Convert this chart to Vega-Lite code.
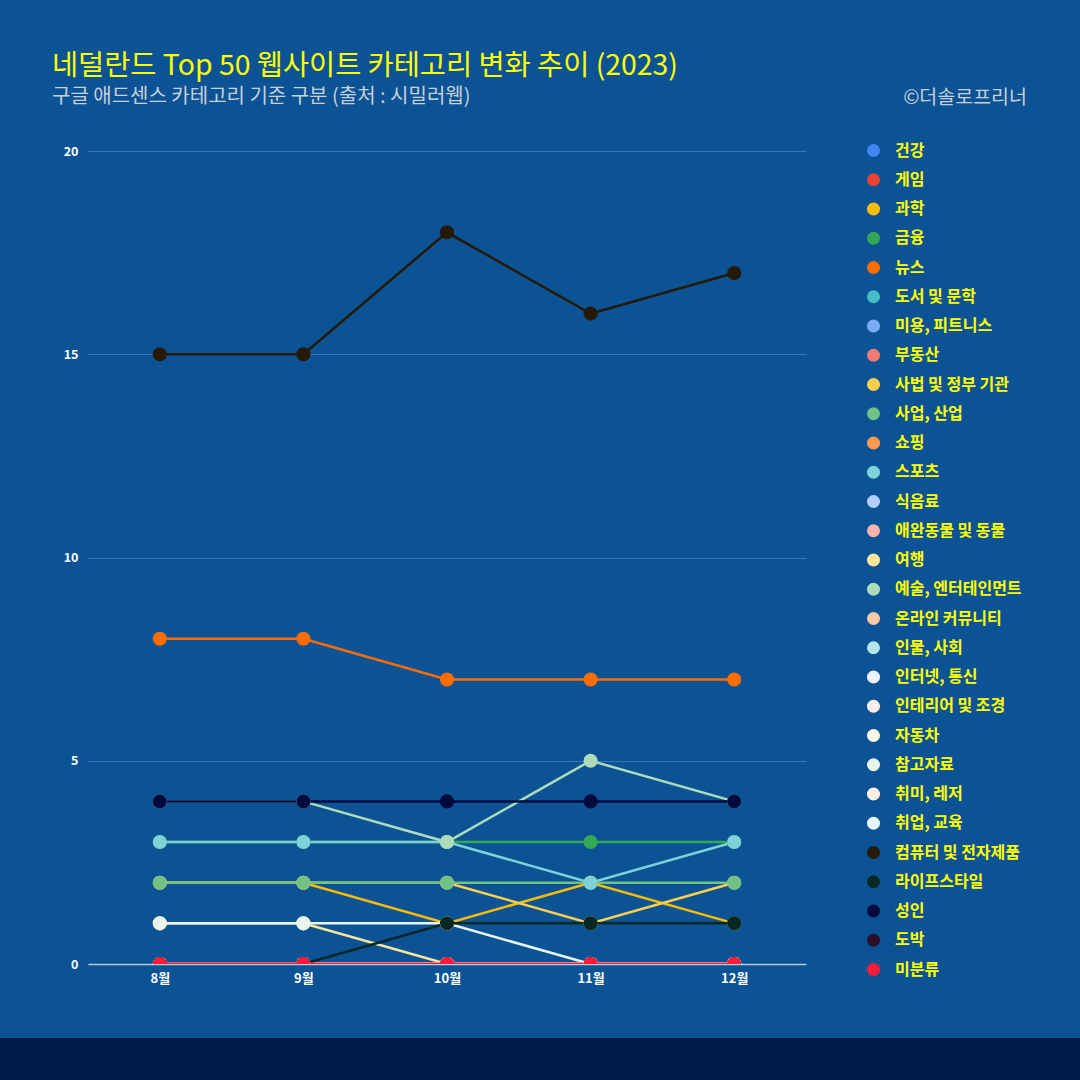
{
  "$schema": "https://vega.github.io/schema/vega-lite/v6.json",
  "width": 718,
  "height": 813,
  "autosize": {"type": "none"},
  "padding": {"left": 88, "top": 151, "right": 274, "bottom": 116},
  "background": "#0b5394",
  "title": {
    "text": "네덜란드 Top 50 웹사이트 카테고리 변화 추이 (2023)",
    "subtitle": "구글 애드센스 카테고리 기준 구분 (출처 : 시밀러웹)",
    "anchor": "start",
    "frame": "group",
    "dx": -36,
    "dy": 64,
    "offset": 44,
    "font": "Noto Sans CJK KR",
    "fontSize": 28.4,
    "fontWeight": "normal",
    "color": "#ffff00",
    "subtitleFont": "Noto Sans CJK KR",
    "subtitleFontSize": 20,
    "subtitleColor": "#c6d0da",
    "subtitlePadding": 6
  },
  "config": {
    "view": {"stroke": null},
    "font": "Noto Sans CJK KR"
  },
  "datasets": {
    "band": [{"k": 1}],
    "credit": [{"t": "©더솔로프리너"}],
    "main": [
      {"m": "8월", "c": "건강", "v": 0}, {"m": "9월", "c": "건강", "v": 0}, {"m": "10월", "c": "건강", "v": 0}, {"m": "11월", "c": "건강", "v": 0}, {"m": "12월", "c": "건강", "v": 0},
      {"m": "8월", "c": "게임", "v": 0}, {"m": "9월", "c": "게임", "v": 0}, {"m": "10월", "c": "게임", "v": 0}, {"m": "11월", "c": "게임", "v": 0}, {"m": "12월", "c": "게임", "v": 0},
      {"m": "8월", "c": "과학", "v": 2}, {"m": "9월", "c": "과학", "v": 2}, {"m": "10월", "c": "과학", "v": 1}, {"m": "11월", "c": "과학", "v": 2}, {"m": "12월", "c": "과학", "v": 1},
      {"m": "8월", "c": "금융", "v": 3}, {"m": "9월", "c": "금융", "v": 3}, {"m": "10월", "c": "금융", "v": 3}, {"m": "11월", "c": "금융", "v": 3}, {"m": "12월", "c": "금융", "v": 3},
      {"m": "8월", "c": "뉴스", "v": 8}, {"m": "9월", "c": "뉴스", "v": 8}, {"m": "10월", "c": "뉴스", "v": 7}, {"m": "11월", "c": "뉴스", "v": 7}, {"m": "12월", "c": "뉴스", "v": 7},
      {"m": "8월", "c": "도서 및 문학", "v": 0}, {"m": "9월", "c": "도서 및 문학", "v": 0}, {"m": "10월", "c": "도서 및 문학", "v": 0}, {"m": "11월", "c": "도서 및 문학", "v": 0}, {"m": "12월", "c": "도서 및 문학", "v": 0},
      {"m": "8월", "c": "미용, 피트니스", "v": 0}, {"m": "9월", "c": "미용, 피트니스", "v": 0}, {"m": "10월", "c": "미용, 피트니스", "v": 0}, {"m": "11월", "c": "미용, 피트니스", "v": 0}, {"m": "12월", "c": "미용, 피트니스", "v": 0},
      {"m": "8월", "c": "부동산", "v": 0}, {"m": "9월", "c": "부동산", "v": 0}, {"m": "10월", "c": "부동산", "v": 0}, {"m": "11월", "c": "부동산", "v": 0}, {"m": "12월", "c": "부동산", "v": 0},
      {"m": "8월", "c": "사법 및 정부 기관", "v": 2}, {"m": "9월", "c": "사법 및 정부 기관", "v": 2}, {"m": "10월", "c": "사법 및 정부 기관", "v": 2}, {"m": "11월", "c": "사법 및 정부 기관", "v": 1}, {"m": "12월", "c": "사법 및 정부 기관", "v": 2},
      {"m": "8월", "c": "사업, 산업", "v": 2}, {"m": "9월", "c": "사업, 산업", "v": 2}, {"m": "10월", "c": "사업, 산업", "v": 2}, {"m": "11월", "c": "사업, 산업", "v": 2}, {"m": "12월", "c": "사업, 산업", "v": 2},
      {"m": "8월", "c": "쇼핑", "v": 0}, {"m": "9월", "c": "쇼핑", "v": 0}, {"m": "10월", "c": "쇼핑", "v": 0}, {"m": "11월", "c": "쇼핑", "v": 0}, {"m": "12월", "c": "쇼핑", "v": 0},
      {"m": "8월", "c": "스포츠", "v": 3}, {"m": "9월", "c": "스포츠", "v": 3}, {"m": "10월", "c": "스포츠", "v": 3}, {"m": "11월", "c": "스포츠", "v": 2}, {"m": "12월", "c": "스포츠", "v": 3},
      {"m": "8월", "c": "식음료", "v": 0}, {"m": "9월", "c": "식음료", "v": 0}, {"m": "10월", "c": "식음료", "v": 0}, {"m": "11월", "c": "식음료", "v": 0}, {"m": "12월", "c": "식음료", "v": 0},
      {"m": "8월", "c": "애완동물 및 동물", "v": 0}, {"m": "9월", "c": "애완동물 및 동물", "v": 0}, {"m": "10월", "c": "애완동물 및 동물", "v": 0}, {"m": "11월", "c": "애완동물 및 동물", "v": 0}, {"m": "12월", "c": "애완동물 및 동물", "v": 0},
      {"m": "8월", "c": "여행", "v": 1}, {"m": "9월", "c": "여행", "v": 1}, {"m": "10월", "c": "여행", "v": 0}, {"m": "11월", "c": "여행", "v": 0}, {"m": "12월", "c": "여행", "v": 0},
      {"m": "8월", "c": "예술, 엔터테인먼트", "v": 4}, {"m": "9월", "c": "예술, 엔터테인먼트", "v": 4}, {"m": "10월", "c": "예술, 엔터테인먼트", "v": 3}, {"m": "11월", "c": "예술, 엔터테인먼트", "v": 5}, {"m": "12월", "c": "예술, 엔터테인먼트", "v": 4},
      {"m": "8월", "c": "온라인 커뮤니티", "v": 0}, {"m": "9월", "c": "온라인 커뮤니티", "v": 0}, {"m": "10월", "c": "온라인 커뮤니티", "v": 0}, {"m": "11월", "c": "온라인 커뮤니티", "v": 0}, {"m": "12월", "c": "온라인 커뮤니티", "v": 0},
      {"m": "8월", "c": "인물, 사회", "v": 0}, {"m": "9월", "c": "인물, 사회", "v": 0}, {"m": "10월", "c": "인물, 사회", "v": 0}, {"m": "11월", "c": "인물, 사회", "v": 0}, {"m": "12월", "c": "인물, 사회", "v": 0},
      {"m": "8월", "c": "인터넷, 통신", "v": 0}, {"m": "9월", "c": "인터넷, 통신", "v": 0}, {"m": "10월", "c": "인터넷, 통신", "v": 0}, {"m": "11월", "c": "인터넷, 통신", "v": 0}, {"m": "12월", "c": "인터넷, 통신", "v": 0},
      {"m": "8월", "c": "인테리어 및 조경", "v": 0}, {"m": "9월", "c": "인테리어 및 조경", "v": 0}, {"m": "10월", "c": "인테리어 및 조경", "v": 0}, {"m": "11월", "c": "인테리어 및 조경", "v": 0}, {"m": "12월", "c": "인테리어 및 조경", "v": 0},
      {"m": "8월", "c": "자동차", "v": 0}, {"m": "9월", "c": "자동차", "v": 0}, {"m": "10월", "c": "자동차", "v": 0}, {"m": "11월", "c": "자동차", "v": 0}, {"m": "12월", "c": "자동차", "v": 0},
      {"m": "8월", "c": "참고자료", "v": 1}, {"m": "9월", "c": "참고자료", "v": 1}, {"m": "10월", "c": "참고자료", "v": 1}, {"m": "11월", "c": "참고자료", "v": 0}, {"m": "12월", "c": "참고자료", "v": 0},
      {"m": "8월", "c": "취미, 레저", "v": 0}, {"m": "9월", "c": "취미, 레저", "v": 0}, {"m": "10월", "c": "취미, 레저", "v": 0}, {"m": "11월", "c": "취미, 레저", "v": 0}, {"m": "12월", "c": "취미, 레저", "v": 0},
      {"m": "8월", "c": "취업, 교육", "v": 0}, {"m": "9월", "c": "취업, 교육", "v": 0}, {"m": "10월", "c": "취업, 교육", "v": 0}, {"m": "11월", "c": "취업, 교육", "v": 0}, {"m": "12월", "c": "취업, 교육", "v": 0},
      {"m": "8월", "c": "컴퓨터 및 전자제품", "v": 15}, {"m": "9월", "c": "컴퓨터 및 전자제품", "v": 15}, {"m": "10월", "c": "컴퓨터 및 전자제품", "v": 18}, {"m": "11월", "c": "컴퓨터 및 전자제품", "v": 16}, {"m": "12월", "c": "컴퓨터 및 전자제품", "v": 17},
      {"m": "8월", "c": "라이프스타일", "v": 0}, {"m": "9월", "c": "라이프스타일", "v": 0}, {"m": "10월", "c": "라이프스타일", "v": 1}, {"m": "11월", "c": "라이프스타일", "v": 1}, {"m": "12월", "c": "라이프스타일", "v": 1},
      {"m": "8월", "c": "성인", "v": 4}, {"m": "9월", "c": "성인", "v": 4}, {"m": "10월", "c": "성인", "v": 4}, {"m": "11월", "c": "성인", "v": 4}, {"m": "12월", "c": "성인", "v": 4},
      {"m": "8월", "c": "도박", "v": 0}, {"m": "9월", "c": "도박", "v": 0}, {"m": "10월", "c": "도박", "v": 0}, {"m": "11월", "c": "도박", "v": 0}, {"m": "12월", "c": "도박", "v": 0},
      {"m": "8월", "c": "미분류", "v": 0}, {"m": "9월", "c": "미분류", "v": 0}, {"m": "10월", "c": "미분류", "v": 0}, {"m": "11월", "c": "미분류", "v": 0}, {"m": "12월", "c": "미분류", "v": 0}
    ]
  },
  "layer": [
    {
      "data": {"name": "band"},
      "mark": {"type": "rect", "color": "#001b47", "x": -90, "x2": 1000, "y": 887, "y2": 935, "clip": false},
      "encoding": {}
    },
    {
      "data": {"name": "credit"},
      "mark": {"type": "text", "align": "right", "baseline": "alphabetic", "x": 939, "y": -47, "fontSize": 19.5, "color": "#c6d0da", "font": "Noto Sans CJK KR"},
      "encoding": {"text": {"field": "t"}}
    },
    {
      "data": {"name": "main"},
      "mark": {"type": "line", "strokeWidth": 2.5, "clip": true},
      "encoding": {
        "x": {
          "field": "m", "type": "ordinal", "sort": ["8월", "9월", "10월", "11월", "12월"],
          "scale": {"type": "point", "padding": 0.5},
          "axis": {"title": null, "ticks": false, "domain": true, "domainColor": "#b9c9da", "domainWidth": 1.5, "labelAngle": 0, "labelColor": "#ffffff", "labelFontSize": 13, "labelFontWeight": "bold", "labelPadding": 8, "grid": false, "labelFont": "Noto Sans CJK KR"}
        },
        "y": {
          "field": "v", "type": "quantitative",
          "scale": {"domain": [0, 20], "nice": false},
          "axis": {"title": null, "values": [0, 5, 10, 15, 20], "ticks": false, "domain": false, "grid": true, "gridColor": "#3a76b2", "gridWidth": 1, "labelColor": "#ffffff", "labelFontSize": 12.5, "labelFontWeight": "bold", "labelPadding": 10, "labelFont": "Noto Sans CJK KR"}
        },
        "color": {
          "field": "c", "type": "nominal",
          "scale": {
            "domain": ["건강", "게임", "과학", "금융", "뉴스", "도서 및 문학", "미용, 피트니스", "부동산", "사법 및 정부 기관", "사업, 산업", "쇼핑", "스포츠", "식음료", "애완동물 및 동물", "여행", "예술, 엔터테인먼트", "온라인 커뮤니티", "인물, 사회", "인터넷, 통신", "인테리어 및 조경", "자동차", "참고자료", "취미, 레저", "취업, 교육", "컴퓨터 및 전자제품", "라이프스타일", "성인", "도박", "미분류"],
            "range": ["#4285f4", "#ea4335", "#fbbc04", "#34a853", "#ff6d01", "#46bdc6", "#7baaf7", "#f07b72", "#fcd04f", "#71c287", "#ff994d", "#7ed1d7", "#b3cefb", "#f7b4ae", "#fde49b", "#aedcba", "#ffc8a6", "#b5e5e8", "#ecf3fe", "#fdeeed", "#fff8e6", "#e9f6ec", "#fff0e6", "#e8f8f9", "#261a07", "#062825", "#000a3d", "#2d0f28", "#ff1a3a"]
          },
          "legend": {
            "title": null, "orient": "none", "legendX": 777.5, "legendY": -8.5,
            "symbolType": "circle", "symbolSize": 170, "symbolOpacity": 1, "symbolStrokeWidth": 0,
            "labelColor": "#ffff00", "labelFontSize": 16, "labelFontWeight": "bold", "labelFont": "Noto Sans CJK KR",
            "labelOffset": 13.5, "rowPadding": 13.25, "padding": 0, "symbolLimit": 50, "labelLimit": 300
          }
        }
      }
    },
    {
      "data": {"name": "main"},
      "mark": {"type": "point", "filled": true, "opacity": 1, "size": 200, "shape": "circle", "clip": true},
      "encoding": {
        "x": {"field": "m", "type": "ordinal", "sort": ["8월", "9월", "10월", "11월", "12월"]},
        "y": {"field": "v", "type": "quantitative"},
        "color": {"field": "c", "type": "nominal", "legend": null}
      }
    }
  ]
}
